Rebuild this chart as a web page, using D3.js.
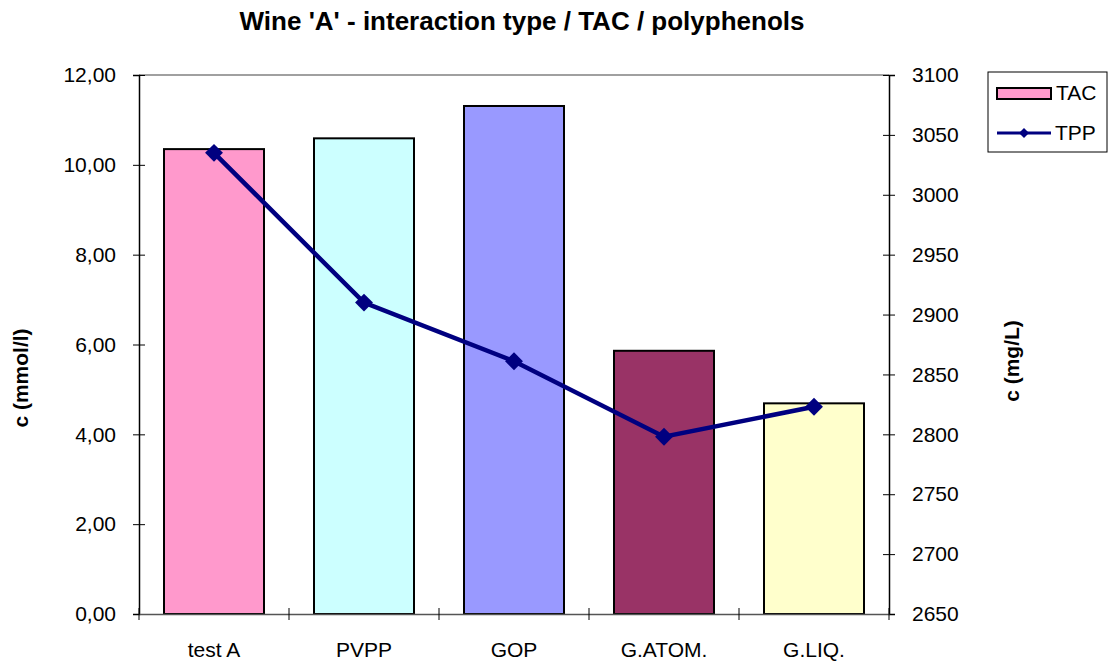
<!DOCTYPE html>
<html><head><meta charset="utf-8">
<script src="https://cdn.jsdelivr.net/npm/d3@7"></script>
<style>body{margin:0;background:#fff;} text{font-family:"Liberation Sans",Arial,sans-serif;}</style>
</head><body><svg id="c" width="1113" height="666"></svg>
<script>
const categories = ["test A","PVPP","GOP","G.ATOM.","G.LIQ."];
const tacValues = [10.35, 10.59, 11.31, 5.86, 4.69];
const tppValues = [3035, 2910, 2861, 2798, 2823];
const barColors = ["#ff99cc","#ccffff","#9999ff","#993366","#ffffcc"];
const leftTicks = [0,2,4,6,8,10,12];
const rightTicks = [2650,2700,2750,2800,2850,2900,2950,3000,3050,3100];
const title = "Wine 'A' - interaction type / TAC / polyphenols";

const svg = d3.select("#c");
const L=139, R=889, T=75, B=614;
const FS = 21;
const x = d3.scaleBand().domain(categories).range([L,R]).paddingInner(1/3).paddingOuter(1/6);
const xc = d3.scaleBand().domain(categories).range([L,R]);
const yL = d3.scaleLinear().domain([0,12]).range([B,T]);
const yR = d3.scaleLinear().domain([2650,3100]).range([B,T]);
const fmt = d3.format(".2f");

// plot top border
svg.append("line").attr("x1",L).attr("x2",R).attr("y1",T).attr("y2",T).attr("stroke","#808080").attr("stroke-width",1.5);

// bars
svg.selectAll("rect.bar").data(categories).join("rect")
  .attr("x",d=>x(d)).attr("width",x.bandwidth())
  .attr("y",(d,i)=>yL(tacValues[i])).attr("height",(d,i)=>B-yL(tacValues[i]))
  .attr("fill",(d,i)=>barColors[i]).attr("stroke","#000").attr("stroke-width",2);

// left axis
const gl = svg.append("g").attr("transform",`translate(${L},0)`)
  .call(d3.axisLeft(yL).tickValues(leftTicks).tickFormat(d=>fmt(d).replace(".",",")).tickSizeOuter(0).tickSize(6).tickPadding(17));
gl.selectAll(".tick line").attr("x2",6).attr("x1",-6);
// right axis
const gr = svg.append("g").attr("transform",`translate(${R},0)`)
  .call(d3.axisRight(yR).tickValues(rightTicks).tickFormat(d3.format("d")).tickSizeOuter(0).tickSize(6).tickPadding(17));
gr.selectAll(".tick line").attr("x1",-6).attr("x2",6);
// bottom axis
const gb = svg.append("g").attr("transform",`translate(0,${B})`)
  .call(d3.axisBottom(xc).tickSize(0).tickSizeOuter(0));
gb.select(".domain").attr("stroke","#555").attr("stroke-width",1.5);
gb.selectAll(".tick text").attr("y",43).attr("dy",0);
// category boundary ticks
const bounds = categories.map(c=>xc(c)).concat([R]);
svg.selectAll("line.ctick").data(bounds).join("line")
  .attr("x1",d=>d).attr("x2",d=>d).attr("y1",B-6).attr("y2",B+6).attr("stroke","#000");

[gl,gr,gb].forEach(g=>{g.selectAll("text").attr("font-size",FS).attr("fill","#000").attr("font-family","Liberation Sans, Arial, sans-serif");
  g.selectAll(".tick line").attr("stroke","#000");});
gl.select(".domain").attr("stroke","#000").attr("stroke-width",1.5);
gr.select(".domain").attr("stroke","#000").attr("stroke-width",1.5);

// line
const pts = categories.map((c,i)=>[xc(c)+xc.bandwidth()/2, yR(tppValues[i])]);
svg.append("path").attr("d",d3.line()(pts)).attr("fill","none").attr("stroke","#000080").attr("stroke-width",4.5);
svg.selectAll("path.mk").data(pts).join("path")
  .attr("d",d3.symbol(d3.symbolSquare, 160))
  .attr("transform",d=>`translate(${d[0]},${d[1]}) rotate(45)`).attr("fill","#000080");

// title
svg.append("text").attr("x",522).attr("y",30).attr("text-anchor","middle").attr("font-size",26).attr("font-weight","bold").text(title);
// axis titles
svg.append("text").attr("transform","translate(28,378) rotate(-90)").attr("text-anchor","middle").attr("font-size",FS).attr("font-weight","bold").text("c (mmol/l)");
svg.append("text").attr("transform","translate(1019,361) rotate(-90)").attr("text-anchor","middle").attr("font-size",FS).attr("font-weight","bold").text("c (mg/L)");

// legend
const lg = svg.append("g");
lg.append("rect").attr("x",988).attr("y",72).attr("width",119).attr("height",80).attr("fill","#fff").attr("stroke","#000").attr("stroke-width",1);
lg.append("rect").attr("x",997).attr("y",88).attr("width",54).attr("height",11).attr("fill",barColors[0]).attr("stroke","#000").attr("stroke-width",2);
lg.append("text").attr("x",1056).attr("y",100).attr("font-size",FS).text("TAC");
lg.append("line").attr("x1",997).attr("x2",1051).attr("y1",133).attr("y2",133).attr("stroke","#000080").attr("stroke-width",3);
lg.append("path").attr("d",d3.symbol(d3.symbolSquare,50)).attr("transform","translate(1024,133) rotate(45)").attr("fill","#000080");
lg.append("text").attr("x",1055).attr("y",140).attr("font-size",FS).text("TPP");
</script></body></html>
